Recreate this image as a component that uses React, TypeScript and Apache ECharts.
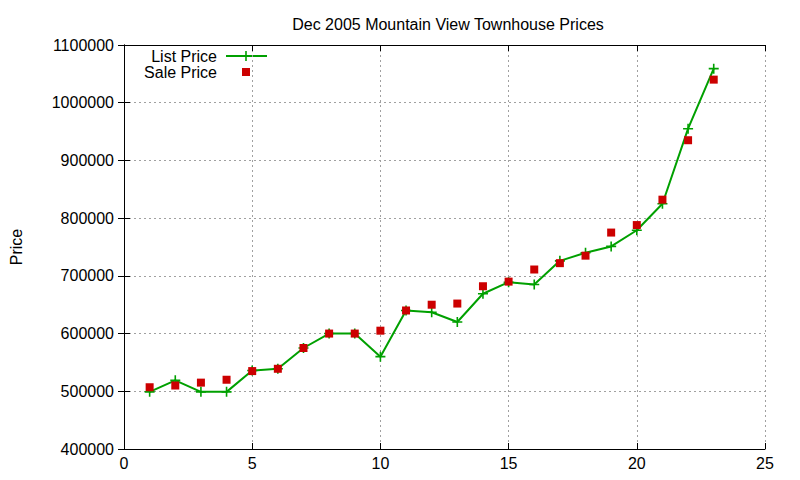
import React, { useEffect, useRef } from "react";
import * as echarts from "echarts";

const xValues = [1, 2, 3, 4, 5, 6, 7, 8, 9, 10, 11, 12, 13, 14, 15, 16, 17, 18, 19, 20, 21, 22, 23];
const listPrice = [499000, 519000, 499000, 499000, 536000, 539000, 575000, 600000, 600000, 560000, 640000, 637000, 620000, 669000, 689000, 685000, 726000, 740000, 751000, 779000, 825000, 955000, 1059000];
const salePrice = [507000, 510000, 515000, 520000, 535000, 539000, 575000, 600000, 600000, 605000, 640000, 650000, 652000, 682000, 690000, 711000, 722000, 735000, 775000, 788000, 832000, 935000, 1040000];
const seriesNames = ["List Price", "Sale Price"];
const titleText = "Dec 2005 Mountain View Townhouse Prices";
const yName = "Price";

const GREEN = "#00a000";
const RED = "#cc0000";
const FONT = "Liberation Sans, Arial, sans-serif";
const PLUS = "path://M4.2,0H5.8V4.2H10V5.8H5.8V10H4.2V5.8H0V4.2H4.2Z";

export default function App() {
  const ref = useRef<HTMLDivElement>(null);
  useEffect(() => {
    if (!ref.current) return;
    const chart = echarts.init(ref.current, null, { renderer: "svg" });
    const splitLine = { show: true, lineStyle: { color: "#a0a0a0", type: [2, 3] as any, width: 1 } };
    const axisLine = { show: true, lineStyle: { color: "#000", width: 1 } };
    const axisTick = { show: true, inside: true, length: 6, lineStyle: { color: "#000" } };
    const labelStyle = { color: "#000", fontSize: 16, fontFamily: FONT };
    chart.setOption({
      animation: false,
      backgroundColor: "#fff",
      title: {
        text: titleText,
        left: 443,
        top: 11,
        textAlign: "center",
        textStyle: { fontSize: 16, fontWeight: "normal", color: "#000", fontFamily: FONT },
      },
      grid: { left: 118, right: 35, top: 45, bottom: 31 },
      xAxis: [
        {
          type: "value",
          min: 0,
          max: 25,
          interval: 5,
          axisLine,
          axisTick,
          axisLabel: { ...labelStyle, margin: 6 },
          splitLine,
        },
        {
          type: "value",
          position: "top",
          min: 0,
          max: 25,
          interval: 5,
          axisLine,
          axisTick,
          axisLabel: { show: false },
          splitLine: { show: false },
        },
      ],
      yAxis: [
        {
          type: "value",
          min: 400000,
          max: 1100000,
          interval: 100000,
          name: yName,
          nameLocation: "middle",
          nameGap: 100,
          nameRotate: 90,
          nameTextStyle: { ...labelStyle },
          axisLine,
          axisTick,
          axisLabel: { ...labelStyle, margin: 10, formatter: (v: number) => String(v) },
          splitLine,
        },
        {
          type: "value",
          position: "right",
          min: 400000,
          max: 1100000,
          interval: 100000,
          axisLine,
          axisTick,
          axisLabel: { show: false },
          splitLine: { show: false },
        },
      ],
      series: [
        {
          name: seriesNames[0],
          type: "line",
          data: xValues.map((x, i) => [x, listPrice[i]]),
          lineStyle: { color: GREEN, width: 2 },
          itemStyle: { color: GREEN },
          symbol: PLUS,
          symbolSize: 10,
          showAllSymbol: true,
          z: 2,
        },
        {
          name: seriesNames[1],
          type: "scatter",
          data: xValues.map((x, i) => [x, salePrice[i]]),
          itemStyle: { color: RED, opacity: 1 },
          symbol: "rect",
          symbolSize: 8,
          z: 3,
        },
      ],
      graphic: [
        {
          type: "text",
          x: 217,
          y: 56,
          style: { text: seriesNames[0], fill: "#000", font: `16px ${FONT}`, textAlign: "right", textVerticalAlign: "middle" },
        },
        {
          type: "line",
          shape: { x1: 226, y1: 56, x2: 267, y2: 56 },
          style: { stroke: GREEN, lineWidth: 2 },
        },
        {
          type: "polygon",
          shape: { points: [[245.2, 51], [246.8, 51], [246.8, 55.2], [251, 55.2], [251, 56.8], [246.8, 56.8], [246.8, 61], [245.2, 61], [245.2, 56.8], [241, 56.8], [241, 55.2], [245.2, 55.2]] },
          style: { fill: GREEN },
        },
        {
          type: "text",
          x: 217,
          y: 72,
          style: { text: seriesNames[1], fill: "#000", font: `16px ${FONT}`, textAlign: "right", textVerticalAlign: "middle" },
        },
        {
          type: "rect",
          shape: { x: 242, y: 68, width: 8, height: 8 },
          style: { fill: RED },
        },
      ],
    });
    return () => chart.dispose();
  }, []);
  return <div ref={ref} style={{ width: 800, height: 480, position: "absolute", left: 0, top: 0 }} />;
}
